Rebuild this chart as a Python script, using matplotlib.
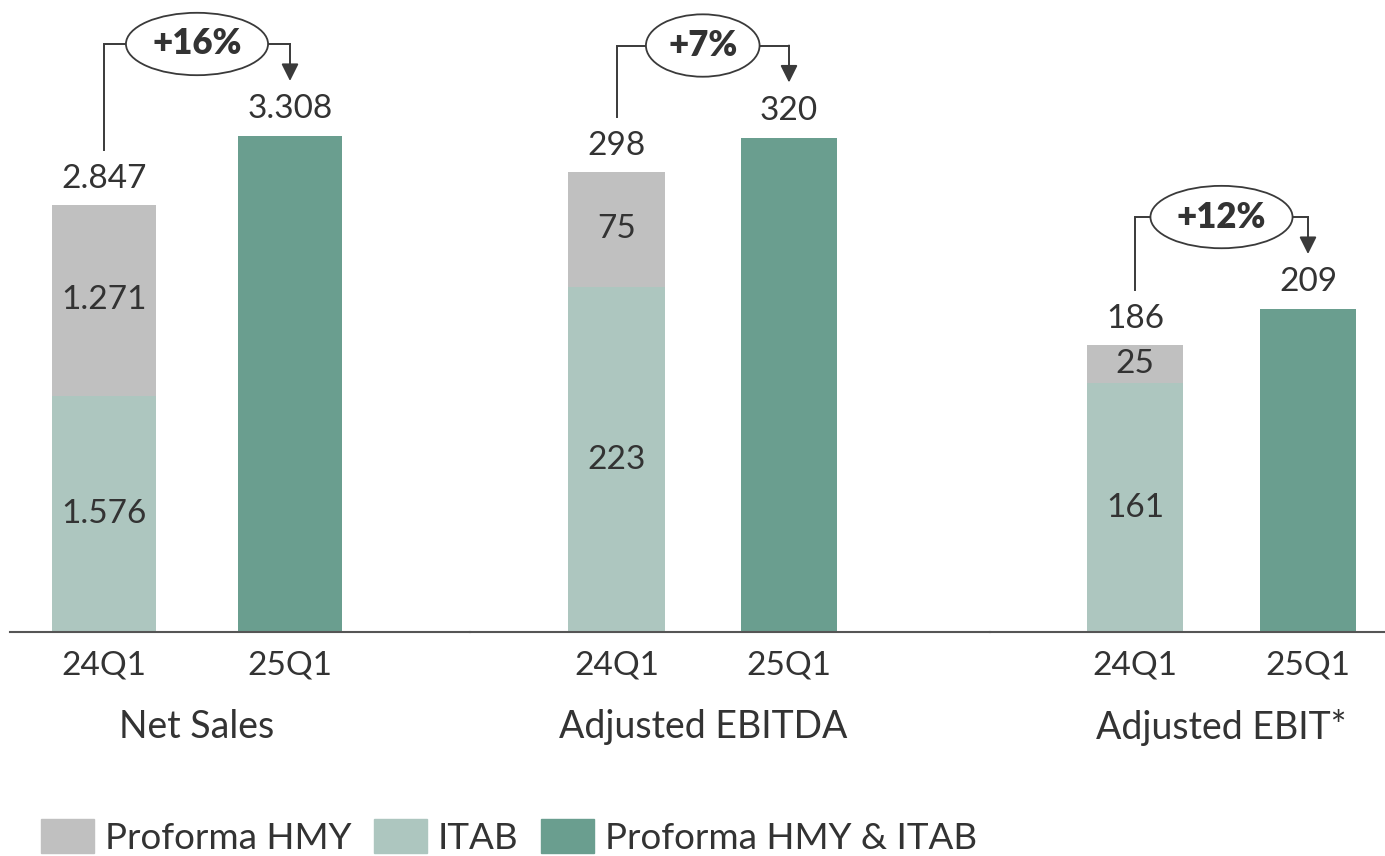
import matplotlib
matplotlib.use("Agg")
import matplotlib.pyplot as plt
from matplotlib.patches import Patch

plt.rcParams['font.family'] = ['Lato', 'DejaVu Sans']

# ---- data ----
groups = ["Net Sales", "Adjusted EBITDA", "Adjusted EBIT*"]
periods = ["24Q1", "25Q1"]
itab_24 = [1576, 223, 161]          # ITAB share of 24Q1
hmy_24 = [1271, 75, 25]             # Proforma HMY share of 24Q1
combined_25 = [3308, 320, 209]      # Proforma HMY & ITAB, 25Q1
legend_labels = ["Proforma HMY", "ITAB", "Proforma HMY & ITAB"]

# ---- style ----
C_HMY = "#C0C0C0"
C_ITAB = "#ADC6BF"
C_COMB = "#6A9E8F"
C_TEXT = "#333333"
C_LINE = "#3a3a3a"
FS_NUM = 24
FS_WORD = 27

W, H = 1385, 856
fig = plt.figure(figsize=(W / 100, H / 100), dpi=100)

base_px = 632                       # baseline, px from top
ax_ranges = [(10, 470), (470, 990), (990, 1385)]
bar_centers = [(104, 290), (616.5, 789), (1135, 1308)]
ytops = [4215, 409, 409]


def fmt(v):
    return f"{v:,}".replace(",", ".")


def shift(ax, y, px):
    """Data y moved up by px display pixels."""
    d = ax.transData.transform((0, y))
    return ax.transData.inverted().transform((d[0], d[1] + px))[1]


for i, (L, R) in enumerate(ax_ranges):
    ax = fig.add_axes([L / W, 1 - base_px / H, (R - L) / W, base_px / H])
    c0, c1 = bar_centers[i]
    s = c1 - c0
    ax.set_xlim((L - c0) / s, 1 + (R - c1) / s)
    ax.set_ylim(0, ytops[i])
    for side in ("left", "right", "top"):
        ax.spines[side].set_visible(False)
    ax.spines["bottom"].set_color("#555555")
    ax.spines["bottom"].set_linewidth(1.5)
    ax.set_yticks([])
    ax.set_xticks([0, 1])
    ax.set_xticklabels(periods, fontsize=FS_NUM, color=C_TEXT)
    ax.tick_params(axis="x", length=0, pad=13)
    ax.patch.set_alpha(0)

    bw = 0.56
    total_24 = itab_24[i] + hmy_24[i]
    ax.bar(0, itab_24[i], width=bw, color=C_ITAB, zorder=2)
    ax.bar(0, hmy_24[i], bottom=itab_24[i], width=bw, color=C_HMY, zorder=2)
    ax.bar(1, combined_25[i], width=bw, color=C_COMB, zorder=2)

    # segment labels
    ax.text(0, itab_24[i] / 2, fmt(itab_24[i]), ha="center", va="center",
            fontsize=FS_NUM, color=C_TEXT, zorder=3)
    ax.text(0, itab_24[i] + hmy_24[i] / 2, fmt(hmy_24[i]), ha="center",
            va="center", fontsize=FS_NUM, color=C_TEXT, zorder=3)
    # totals above bars
    ax.text(0, shift(ax, total_24, 26), fmt(total_24), ha="center",
            va="center", fontsize=FS_NUM, color=C_TEXT)
    ax.text(1, shift(ax, combined_25[i], 27), fmt(combined_25[i]),
            ha="center", va="center", fontsize=FS_NUM, color=C_TEXT)

    # group label
    ax.text(0.5, -95 / base_px, groups[i], transform=ax.get_xaxis_transform(),
            ha="center", va="center", fontsize=FS_WORD, color=C_TEXT)

    # growth bracket
    level = shift(ax, max(total_24, combined_25[i]), 92)
    start = shift(ax, total_24, 55)
    tip = shift(ax, combined_25[i], 55)
    ax.plot([0, 0, 1], [start, level, level], color=C_LINE, lw=1.4,
            solid_joinstyle="miter", clip_on=False, zorder=4)
    ax.annotate("", xy=(1, tip), xytext=(1, level),
                arrowprops=dict(arrowstyle="-|>", color=C_LINE, lw=1.4,
                                mutation_scale=26, shrinkA=0, shrinkB=0),
                annotation_clip=False, zorder=4)
    growth = round((combined_25[i] / total_24 - 1) * 100)
    ax.text(0.5, level, f"+{growth}%", ha="center", va="center",
            fontsize=FS_NUM + 1, fontweight="heavy", color=C_TEXT, zorder=5,
            bbox=dict(boxstyle="ellipse,pad=0.16", fc="white", ec=C_LINE,
                      lw=1.3))

handles = [Patch(color=c) for c in (C_HMY, C_ITAB, C_COMB)]
fig.legend(handles, legend_labels, loc="center left",
           bbox_to_anchor=(41 / W, 1 - 837 / H), ncol=3, frameon=False,
           fontsize=FS_WORD - 0.5, handlelength=1.45, handleheight=1.02,
           handletextpad=0.28, columnspacing=0.62, borderpad=0,
           borderaxespad=0, labelcolor=C_TEXT)

fig.savefig("out.png", dpi=100)
